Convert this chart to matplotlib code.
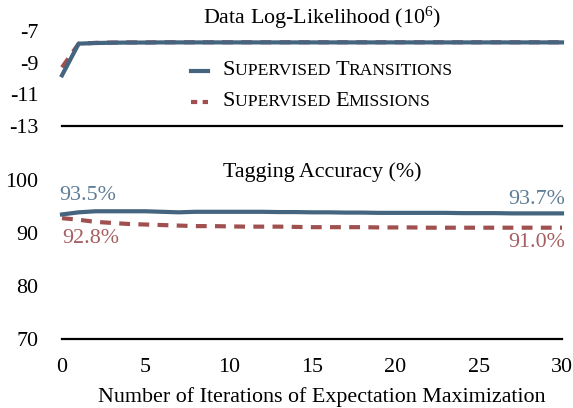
import matplotlib
matplotlib.use("Agg")
import matplotlib.pyplot as plt
from matplotlib.lines import Line2D
from matplotlib.offsetbox import TextArea, HPacker, VPacker, DrawingArea, AnchoredOffsetbox

plt.rcParams['font.family'] = ['Liberation Serif', 'DejaVu Serif']
plt.rcParams['mathtext.fontset'] = 'custom'
plt.rcParams['mathtext.rm'] = 'Liberation Serif'
plt.rcParams['mathtext.it'] = 'Liberation Serif:italic'
plt.rcParams['axes.unicode_minus'] = False

iterations = list(range(31))
ll_transitions = [-9.8, -7.8, -7.76, -7.74, -7.73, -7.73, -7.72, -7.72, -7.72, -7.72,
                  -7.72, -7.72, -7.72, -7.72, -7.72, -7.72, -7.72, -7.72, -7.72, -7.72,
                  -7.72, -7.72, -7.72, -7.72, -7.72, -7.72, -7.72, -7.72, -7.72, -7.72, -7.72]
ll_emissions = [-9.3, -7.8, -7.75, -7.73, -7.72, -7.72, -7.71, -7.71, -7.71, -7.71,
                -7.71, -7.71, -7.71, -7.71, -7.71, -7.71, -7.71, -7.71, -7.71, -7.71,
                -7.71, -7.71, -7.71, -7.71, -7.71, -7.71, -7.71, -7.71, -7.71, -7.71, -7.71]
acc_transitions = [93.5, 93.9, 94.1, 94.1, 94.1, 94.1, 94.0, 93.9, 94.0, 94.0,
                   94.0, 94.0, 94.0, 93.95, 93.95, 93.9, 93.9, 93.85, 93.85, 93.8,
                   93.8, 93.8, 93.8, 93.8, 93.75, 93.75, 93.75, 93.7, 93.7, 93.7, 93.7]
acc_emissions = [92.8, 92.5, 92.1, 91.9, 91.7, 91.6, 91.5, 91.4, 91.3, 91.3,
                 91.25, 91.2, 91.2, 91.2, 91.15, 91.1, 91.1, 91.1, 91.1, 91.05,
                 91.05, 91.05, 91.0, 91.0, 91.0, 91.0, 91.0, 91.0, 91.0, 91.0, 91.0]

ll_ticks = [-7, -9, -11, -13]
acc_ticks = [100, 90, 80, 70]
x_ticks = [0, 5, 10, 15, 20, 25, 30]

blue = '#44647f'
red = '#a0504f'
blue_lbl = '#5f7d96'
red_lbl = '#a85d60'
FS = 15.8

fig = plt.figure(figsize=(5.73, 4.08), dpi=100)
L, R = 62 / 573, 562 / 573
ax1 = fig.add_axes([L, 1 - 126 / 408, R - L, (126 - 31) / 408])
ax2 = fig.add_axes([L, 1 - 339 / 408, R - L, (339 - 180) / 408])

lw = 3
dash = (2.6, 2.0)
for ax in (ax1, ax2):
    for s in ['left', 'right', 'top']:
        ax.spines[s].set_visible(False)
    ax.spines['bottom'].set_linewidth(1.6)
    ax.tick_params(length=0, labelsize=FS, pad=17)
    ax.set_xlim(0, 30)
    ax.patch.set_alpha(0)

ax1.plot(iterations, ll_emissions, color=red, lw=lw, ls=(0, dash), zorder=2, clip_on=False)
ax1.plot(iterations, ll_transitions, color=blue, lw=lw, zorder=3, clip_on=False)
ax1.set_ylim(-13, -7)
ax1.set_yticks(ll_ticks)
ax1.set_xticks([])

ax2.plot(iterations, acc_transitions, color=blue, lw=lw, zorder=3, clip_on=False)
ax2.plot(iterations, acc_emissions, color=red, lw=lw, ls=(0, dash), zorder=2, clip_on=False)
ax2.set_ylim(70, 100)
ax2.set_yticks(acc_ticks)
ax2.set_xticks(x_ticks)
ax2.tick_params(axis='x', pad=14)
ax2.set_xlabel('Number of Iterations of Expectation Maximization', fontsize=FS)
ax2.xaxis.set_label_coords((322 - 62) / (562 - 62), -0.30)

# end-point annotations
ax2.annotate(f'{acc_transitions[0]:.1f}%', (iterations[0], acc_transitions[0]), xytext=(-2, 14),
             textcoords='offset points', ha='left', va='center', color=blue_lbl, fontsize=FS)
ax2.annotate(f'{acc_emissions[0]:.1f}%', (iterations[0], acc_emissions[0]), xytext=(0, -15),
             textcoords='offset points', ha='left', va='center', color=red_lbl, fontsize=FS)
ax2.annotate(f'{acc_transitions[-1]:.1f}%', (iterations[-1], acc_transitions[-1]), xytext=(2, 10),
             textcoords='offset points', ha='right', va='center', color=blue_lbl, fontsize=FS)
ax2.annotate(f'{acc_emissions[-1]:.1f}%', (iterations[-1], acc_emissions[-1]), xytext=(2, -10.5),
             textcoords='offset points', ha='right', va='center', color=red_lbl, fontsize=FS)

# titles
fig.text(322 / 573, 1 - 18 / 408, 'Data Log-Likelihood (10$^{6}$)', ha='center', va='center', fontsize=FS)
fig.text(322 / 573, 1 - 172 / 408, 'Tagging Accuracy (%)', ha='center', va='center', fontsize=FS)

# small-caps legend
def sc_row(words, handle):
    big, small = 16, 12.6
    items = []
    for i, w in enumerate(words):
        items.append(TextArea(w[0], textprops=dict(fontsize=big)))
        rest = w[1:] + (' ' if i < len(words) - 1 else '')
        items.append(TextArea(rest, textprops=dict(fontsize=small)))
    txt = HPacker(children=items, align='baseline', pad=0, sep=0)
    return HPacker(children=[handle, txt], align='center', pad=0, sep=11)

def handle(color, ls):
    da = DrawingArea(12, 10, 0, 0)
    da.add_artist(Line2D([0, 12], [5, 5], color=color, lw=lw, ls=ls))
    return da

rows = [sc_row(['SUPERVISED', 'TRANSITIONS'], handle(blue, '-')),
        sc_row(['SUPERVISED', 'EMISSIONS'], handle(red, (0, (1.5, 1.3))))]
box = VPacker(children=rows, align='left', pad=0, sep=9)
anch = AnchoredOffsetbox(loc='upper left', child=box, frameon=False,
                         bbox_to_anchor=(191 / 573, 1 - 61 / 408), bbox_transform=fig.transFigure,
                         borderpad=0, pad=0)
ax1.add_artist(anch)

fig.savefig('out.png', dpi=100)
